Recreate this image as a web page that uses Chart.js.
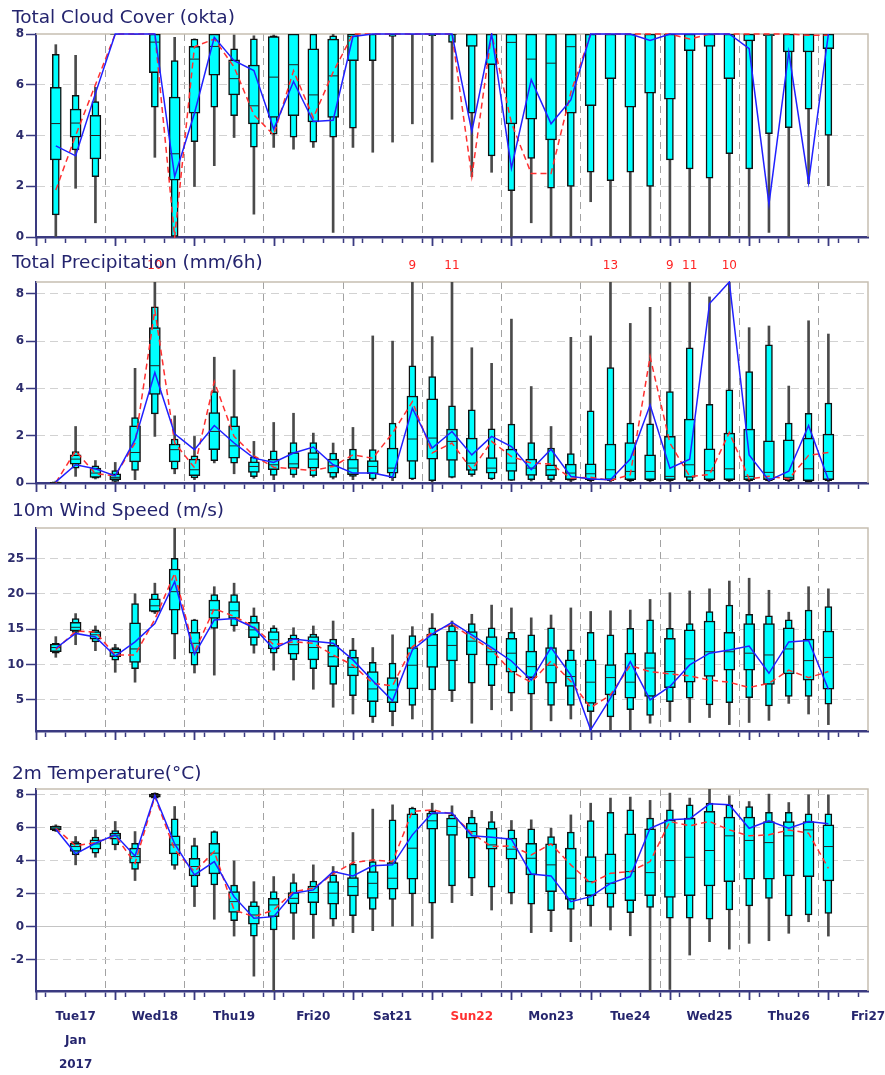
<!DOCTYPE html>
<html lang="en">
<head>
<meta charset="UTF-8">
<title>EPS Meteogram</title>
<script src="https://cdn.jsdelivr.net/npm/chart.js"></script>
<style>
  body { margin: 0; background: #fff; }
  #wrap { position: relative; width: 885px; height: 1075px; overflow: hidden; background: #fff; }
  canvas { position: absolute; left: 0; }
  .title { position: absolute; left: 12px; font: 18.5px "DejaVu Sans", sans-serif; color: #24246e; line-height: 20px; white-space: nowrap; }
</style>
</head>
<body>
<div id="wrap">
  <canvas id="cloud" width="885" height="250" style="top:0px"></canvas>
  <canvas id="precip" width="885" height="250" style="top:250px"></canvas>
  <canvas id="wind" width="885" height="250" style="top:500px"></canvas>
  <canvas id="temp" width="885" height="325" style="top:750px"></canvas>
  <div class="title" style="top:7px">Total Cloud Cover (okta)</div>
  <div class="title" style="top:252px">Total Precipitation (mm/6h)</div>
  <div class="title" style="top:500px">10m Wind Speed (m/s)</div>
  <div class="title" style="top:763px">2m Temperature(°C)</div>
</div>
<script>
// forecast steps (hours after Tue17 00 UTC)
const leadHours = [6,12,18,24,30,36,42,48,54,60,66,72,78,84,90,96,102,108,114,120,
                   126,132,138,144,150,156,162,168,174,180,186,192,198,204,210,216,222,228,234,240];
const dayLabels = ['Tue17','Wed18','Thu19','Fri20','Sat21','Sun22','Mon23','Tue24','Wed25','Thu26','Fri27'];
const monthLabel = 'Jan';
const yearLabel = '2017';

// Total cloud cover (okta)
const cloudMin = [0,1.92,0.56,8,8,3.14,0,1.99,2.81,3.92,0.9,3.53,3.46,3.53,0.18,3.53,3.34,3.74,4.46,2.95,4.64,2.38,2.55,0,0.56,0,0,1.39,0,0,0,0,0,0,0,0,0.18,0,2.1,2.02];
const cloudP10 = [0.87,3.43,2.38,8,8,5.12,0,3.76,5.12,4.78,3.54,4.05,3.93,3.74,3.93,4.29,6.95,7.9,8,7.93,7.67,4.88,3.2,1.83,3.1,1.92,1.99,2.55,2.22,2.55,1.99,3.04,2.68,2.32,3.28,2.68,4.07,4.31,5.04,4.0];
const cloudP25 = [3.04,3.93,3.08,8,8,6.48,2.24,4.88,6.38,5.6,4.46,4.71,4.78,4.54,4.71,6.95,8,8,8,8,8,7.51,6.79,4.46,4.64,3.83,4.88,5.18,6.24,5.12,5.67,5.43,7.34,7.51,6.24,7.73,7.93,7.29,7.29,7.42];
const cloudMed = [4.47,4.49,4.0,8,8,7.68,3.28,7.01,7.51,6.24,5.17,6.3,6.79,5.6,6.35,7.9,8,8,8,8,8,8,8,7.67,7.01,6.85,7.5,8,8,8,8,8,8,8,8,8,8,8,8,8];
const cloudP75 = [5.9,5.04,4.79,8,8,8,5.51,7.51,8,6.98,6.78,7.9,8,7.42,7.8,8,8,8,8,8,8,8,8,8,8,8,8,8,8,8,8,8,8,8,8,8,8,8,8,8];
const cloudP90 = [7.2,5.58,5.34,8,8,8,6.95,7.8,8,7.42,7.81,7.93,8,8,7.93,8,8,8,8,8,8,8,8,8,8,8,8,8,8,8,8,8,8,8,8,8,8,8,8,8];
const cloudMax = [7.58,7.16,5.9,8,8,8,7.87,7.81,8,7.96,7.93,7.96,8,8,8,8,8,8,8,8,8,8,8,8,8,8,8,8,8,8,8,8,8,8,8,8,8,8,8,8];
const cloudCtrl = [3.59,3.2,5.66,8,8,8,2.38,4.88,7.87,6.95,6.56,4.25,6.13,4.55,4.6,7.9,8,8,8,8,8,4.16,8,2.71,6.2,4.46,5.4,8,8,8,7.75,8,8,8,8,7.42,1.3,7.29,2.14,8];
const cloudHres = [1.85,4.0,6.0,8,8,8,0,7.5,7.8,6.7,4.81,4.02,6.55,4.7,6.5,8,8,8,8,8,8,2.38,8,4.5,2.5,2.5,5.7,8,8,8,8,8,7.8,8,8,8,8,8,7.95,7.95];

// Total precipitation (mm/6h)
const precMin = [0,0.28,0.17,0.03,0.14,1.97,0.39,0.14,0.85,0.39,0.2,0.14,0.24,0.25,0.17,0.14,0.11,0.1,0.14,0.03,0.21,0.28,0.14,0.1,0.08,0.05,0.05,0.05,0.05,0.05,0.05,0.05,0.05,0.05,0.05,0.05,0.05,0.05,0.02,0.05];
const precP10 = [0,0.63,0.2,0.07,0.53,2.92,0.59,0.21,0.94,0.84,0.27,0.32,0.34,0.31,0.24,0.28,0.17,0.21,0.17,0.1,0.24,0.35,0.17,0.11,0.14,0.14,0.11,0.1,0.1,0.1,0.1,0.1,0.1,0.1,0.1,0.1,0.1,0.1,0.05,0.1];
const precP25 = [0.01,0.8,0.24,0.14,0.89,3.75,0.89,0.31,1.41,1.05,0.45,0.56,0.62,0.63,0.42,0.35,0.39,0.42,0.91,1.01,0.95,0.53,0.42,0.49,0.32,0.31,0.14,0.14,0.14,0.14,0.14,0.14,0.24,0.14,0.14,0.14,0.14,0.14,0.1,0.14];
const precMed = [0.02,1.01,0.42,0.24,1.29,4.96,1.41,0.56,2.18,1.57,0.7,0.77,0.81,1.01,0.73,0.63,0.7,0.63,1.86,1.9,1.76,0.84,0.63,0.84,0.63,0.56,0.42,0.39,0.56,0.49,0.49,0.28,0.77,0.52,0.6,0.28,0.45,0.24,0.6,0.49];
const precP75 = [0.03,1.19,0.63,0.39,2.42,6.57,1.65,1.01,2.98,2.42,0.89,1.01,1.29,1.29,1.01,1.01,0.95,1.48,3.68,3.56,2.28,1.9,1.08,1.43,1.01,0.77,0.8,0.81,1.65,1.71,1.19,1.97,2.7,1.45,2.11,2.28,1.78,1.83,1.9,2.07];
const precP90 = [0.05,1.33,0.73,0.52,2.77,7.45,1.86,1.15,3.87,2.81,1.1,1.36,1.71,1.71,1.27,1.43,1.41,2.53,4.95,4.5,3.26,3.09,2.29,2.49,1.71,1.48,1.24,3.05,4.88,2.53,2.5,3.87,5.72,3.33,3.94,4.71,5.84,2.53,2.95,3.38];
const precMax = [0.08,2.39,0.95,0.87,4.85,10,2.84,1.97,5.32,4.78,1.76,2.56,2.95,2.11,1.69,2.35,6.22,6.0,9,6.19,11,5.72,5.06,6.93,4.08,2.39,6.16,6.22,13,6.75,7.43,9,11,7.87,10,6.57,6.64,4.1,6.86,6.3];
const precCtrl = [0.05,0.77,0.6,0.3,1.83,4.67,2.08,1.41,2.43,1.69,1.05,0.87,1.27,1.52,0.77,0.42,0.42,0.25,3.16,1.48,2.18,1.19,1.97,1.54,0.56,1.43,0.28,0.17,0.14,1.01,3.3,0.63,1.01,7.59,8.5,1.19,0.11,0.5,2.43,0.14];
const precHres = [0.02,1.36,0.39,0.31,1.69,7.31,1.7,0.65,4.29,1.97,1.15,0.67,0.6,0.53,0.7,1.19,1.05,2.11,3.44,1.27,1.69,0.56,1.76,1.12,0.84,0.8,0.2,0.24,0.11,0.35,5.34,1.69,0.28,0.35,2.14,0.17,0.28,0.17,1.17,1.29];

// 10m wind speed (m/s)
const windMin = [11.02,12.8,11.96,8.9,7.5,17.2,10.8,8.8,8.5,14.7,11.6,9.2,7.8,6.5,3.96,3.0,1.8,1.33,2.3,0.5,4.76,1.7,3.6,3.45,0.6,2.03,2.3,0.76,0.76,0.76,1.7,1.94,1.8,2.5,1.5,1.8,2.1,4.5,3.0,1.5];
const windP10 = [11.6,14.55,13.2,10.6,9.4,17.4,14.3,9.9,15.1,15.45,12.7,11.6,10.7,9.4,7.2,5.6,2.6,3.35,4.2,6.4,6.3,7.35,7.0,5.94,5.8,4.2,4.2,3.35,2.6,3.6,2.8,4.76,5.24,4.3,4.6,5.3,4.15,5.5,5.5,4.4];
const windP25 = [11.8,14.74,13.6,11.1,10.3,17.5,17.7,11.6,16.5,16.5,13.8,12.2,11.45,10.65,9.7,8.4,4.76,4.6,6.55,9.6,10.5,11.35,9.9,8.9,8.15,7.35,6.9,4.5,5.7,5.24,5.5,6.74,7.5,8.3,9.2,9.2,7.2,8.67,7.8,6.5];
const windMed = [12.4,15.26,14.2,11.7,12.2,18.3,20.3,13.0,17.7,17.6,14.9,13.5,12.8,12.4,11.1,9.6,6.55,6.4,9.9,12.7,12.7,13.3,11.8,11.6,9.7,9.9,8.3,7.5,8.15,7.5,9.5,9.0,10.8,11.8,11.8,11.6,11.35,12.2,10.55,11.0];
const windP75 = [12.9,15.96,14.65,12.2,15.9,19.3,23.5,14.55,19.1,18.9,15.96,14.65,13.7,13.94,12.7,11.0,9.0,8.15,12.4,14.3,14.74,14.65,13.94,13.7,11.9,12.4,10.65,10.65,10.0,11.6,11.7,13.7,14.9,16.15,14.55,15.8,15.8,15.2,13.6,14.74];
const windP90 = [13.0,16.5,14.9,12.4,18.6,20.0,25.0,16.3,19.9,19.9,16.9,15.2,14.2,14.3,13.6,12.06,10.3,10.2,14.1,15.2,15.5,15.8,15.2,14.55,14.2,15.2,12.06,14.55,14.2,15.1,16.3,15.1,15.8,17.5,18.4,17.1,16.9,16.3,17.7,18.2];
const windMax = [13.94,17.2,15.45,12.86,20.0,21.5,29.5,16.4,21.0,21.5,18.0,15.5,15.2,15.45,16.15,13.7,12.4,14.2,15.35,17.2,16.15,17.1,18.4,18.0,16.6,17.0,18.0,17.5,17.6,17.7,19.2,20.15,20.4,20.7,21.8,22.2,20.5,17.4,21.0,20.7];
const windCtrl = [12.3,14.4,13.9,11.2,13.2,15.8,21.7,11.45,16.3,16.5,15.2,12.2,13.6,13.3,13.0,10.65,7.7,4.86,12.06,14.3,15.96,14.2,12.4,10.5,7.8,12.4,8.5,0.76,5.24,10.4,5.0,6.9,9.94,11.6,12.06,12.6,8.76,13.2,13.4,6.5];
const windHres = [12.1,14.7,14.6,11.35,11.35,16.4,22.9,11.8,17.9,16.8,15.35,12.8,13.2,13.0,11.35,9.9,7.35,7.0,12.5,14.55,15.7,13.8,12.06,9.0,7.5,10.5,7.6,3.9,5.7,9.85,9.0,8.67,8.4,7.8,7.5,6.74,7.35,9.2,8.15,9.0];

// 2m temperature (°C)
const tempMin = [5.77,3.75,4.21,4.66,2.8,7.76,3.48,1.22,0.45,-0.57,-3.0,-3.95,-0.77,-0.71,0.04,-0.36,-0.24,0,0.04,-0.71,1.46,1.88,1.01,1.38,-0.36,-0.3,-0.91,0,-0.2,-0.55,-3.95,-3.81,-1.72,-0.91,-1.36,-1.01,-0.85,-0.4,0.3,-0.57];
const tempP10 = [5.81,4.35,4.46,4.96,3.48,7.8,3.71,2.43,2.53,0.36,-0.57,-0.2,0.81,0.71,0.45,0.67,1.05,1.66,1.98,1.42,2.47,2.94,2.39,2.03,1.36,0.97,1.05,1.26,1.17,0.85,1.17,0.51,0.51,0.45,1.01,1.26,1.72,0.65,0.71,0.81];
const tempP25 = [5.87,4.56,4.7,5.31,3.85,7.86,4.42,3.08,3.2,0.87,0.16,0.61,1.38,1.46,1.36,1.86,1.72,2.27,2.88,5.91,5.53,5.37,4.7,4.09,3.14,2.13,1.66,1.88,1.98,1.58,1.88,1.78,1.88,2.47,2.73,2.88,2.88,3.08,3.04,2.77];
const tempMed = [5.97,4.86,5.02,5.51,4.25,7.96,4.96,3.65,4.46,1.52,0.71,1.32,1.72,2.07,2.03,2.43,2.63,2.94,4.76,6.42,6.08,5.77,4.96,4.7,4.15,3.75,2.94,2.73,2.63,3.34,3.28,4.01,4.21,4.62,5.51,5.23,5.1,5.51,5.87,4.86];
const tempP75 = [6.08,5.06,5.27,5.67,4.76,8.04,5.51,4.15,5.06,2.13,1.26,1.72,2.07,2.47,2.73,2.98,3.34,3.89,6.85,6.89,6.58,6.28,5.97,5.37,5.06,5.02,4.76,4.25,4.42,5.63,5.93,6.48,6.58,6.99,6.64,6.64,6.38,6.38,6.38,6.18];
const tempP90 = [6.12,5.16,5.43,5.83,5.06,8.08,6.54,4.92,5.77,2.53,1.52,2.13,2.67,2.77,3.14,3.79,3.95,6.48,7.19,7.03,6.78,6.64,6.38,5.87,5.93,5.47,5.73,6.44,6.93,7.09,6.58,7.09,7.39,7.49,7.39,7.29,6.93,6.93,6.85,6.85];
const tempMax = [6.18,5.47,5.87,6.38,5.77,8.12,7.29,5.37,5.81,3.99,2.73,3.04,3.2,3.75,3.65,5.71,7.13,7.39,7.25,7.49,7.33,7.05,6.99,6.44,6.48,5.97,6.78,7.49,7.8,7.86,7.66,8.1,7.8,8.4,7.94,7.59,8.04,7.53,8.0,8.0];
const tempCtrl = [5.91,4.42,5.06,5.57,4.29,7.96,5.02,3.14,3.95,1.82,0.51,0.61,2.03,2.23,3.34,3.08,3.69,3.75,5.57,6.89,6.89,5.51,5.43,5.31,3.2,3.08,1.52,1.82,2.63,3.04,5.97,6.48,6.54,7.45,7.39,5.97,6.42,5.97,6.38,6.24];
const tempHres = [5.97,4.9,5.1,5.51,3.85,7.9,4.66,3.34,4.56,1.01,0.61,1.01,2.13,2.33,3.2,3.89,4.05,3.95,6.99,7.09,6.83,5.67,4.86,4.9,4.35,5.02,3.75,2.63,3.24,3.34,3.95,6.38,6.12,6.38,5.87,5.51,5.57,5.87,5.67,3.54];

const NAVY = '#3a3a80';
const TICK_FONT = { family: 'DejaVu Sans', size: 12, weight: 'bold' };

// top and right frame lines of each plot, plus longer ticks at day boundaries
const framePlugin = {
  id: 'frame',
  beforeDatasetsDraw(chart) {
    const a = chart.chartArea, ctx = chart.ctx, xs = chart.scales.x;
    ctx.save();
    ctx.strokeStyle = '#c6bfb1';
    ctx.lineWidth = 1.5;
    ctx.beginPath();
    ctx.moveTo(a.left, a.top);
    ctx.lineTo(a.right, a.top);
    ctx.lineTo(a.right, a.bottom);
    ctx.stroke();
    ctx.strokeStyle = NAVY;
    ctx.lineWidth = 1.8;
    ctx.beginPath();
    xs.ticks.forEach(t => {
      if (t.value % 24 !== 0) return;
      const px = Math.round(xs.getPixelForValue(t.value)) + 0.5;
      ctx.moveTo(px, a.bottom);
      ctx.lineTo(px, a.bottom + 9);
    });
    ctx.stroke();
    ctx.restore();
  }
};

// numbers above the plot for maxima that run off the top
const overflowPlugin = {
  id: 'overflow',
  afterDatasetsDraw(chart, args, opts) {
    if (!opts.values) return;
    const xs = chart.scales.x, ys = chart.scales.y, ctx = chart.ctx;
    ctx.save();
    ctx.fillStyle = '#ff2424';
    ctx.font = '12px "DejaVu Sans"';
    ctx.textAlign = 'center';
    ctx.textBaseline = 'middle';
    opts.values.forEach((v, i) => {
      if (v > ys.max) ctx.fillText(String(Math.round(v)), xs.getPixelForValue(leadHours[i]), chart.chartArea.top - 16);
    });
    ctx.restore();
  }
};

function dayLabel(v) {
  if (v % 24 !== 12) return '';
  const i = (v - 12) / 24;
  if (i === 0) return [dayLabels[0], monthLabel, yearLabel];
  return dayLabels[i] || '';
}

function dayColor(c) {
  if (!c.tick) return NAVY;
  const v = c.tick.value;
  const lab = v % 24 === 12 ? dayLabels[(v - 12) / 24] : '';
  return lab && lab.startsWith('Sun') ? '#ff3030' : '#26266e';
}

function buildPanel(id, s) {
  const box = (lo, hi) => leadHours.map((h, i) => ({ x: h, y: [lo[i], hi[i]] }));
  const pts = arr => leadHours.map((h, i) => ({ x: h, y: arr[i] }));
  const boxStyle = { type: 'bar', grouped: false, backgroundColor: '#00ffff', borderColor: '#111', borderWidth: 1.5, borderSkipped: false, clip: 0 };

  new Chart(document.getElementById(id), {
    type: 'bar',
    data: {
      datasets: [
        { type: 'line', data: pts(s.ctrl), borderColor: '#2020ff', borderWidth: 1.5, pointRadius: 0, tension: 0, order: 0, clip: 1 },
        { type: 'line', data: pts(s.hres), borderColor: '#ff3030', borderWidth: 1.5, borderDash: [6, 4], pointRadius: 0, tension: 0, order: 1, clip: 1 },
        { type: 'line', data: pts(s.med), showLine: false, pointStyle: 'line', pointRadius: 5, pointBorderColor: '#222', pointBorderWidth: 1, order: 2, clip: 0 },
        Object.assign({ data: box(s.p25, s.p75), barThickness: 11, order: 3 }, boxStyle),
        Object.assign({ data: box(s.p10, s.p90), barThickness: 7, order: 4 }, boxStyle),
        { type: 'bar', grouped: false, data: box(s.min, s.max), barThickness: 2, backgroundColor: '#4a4a4a', borderWidth: 0, order: 5, clip: 0 }
      ]
    },
    options: {
      responsive: false,
      animation: false,
      events: [],
      layout: { padding: { top: s.padTop, bottom: s.padBottom, left: 0, right: 17 } },
      plugins: { legend: { display: false }, tooltip: { enabled: false }, overflow: { values: s.overflow } },
      scales: {
        x: {
          type: 'linear', min: 0, max: 252, offset: false,
          afterFit: sc => { sc.height = s.xHeight; sc.paddingLeft = 0; sc.paddingRight = 0; },
          ticks: {
            stepSize: 6, autoSkip: false, maxRotation: 0, padding: 8,
            callback: v => s.xLabels ? dayLabel(v) : '',
            color: dayColor,
            font: Object.assign({ lineHeight: 2 }, TICK_FONT)
          },
          grid: {
            color: c => (c.tick && c.tick.value % 24 === 0 && c.tick.value > 0 && c.tick.value < 252) ? '#a2a2a2' : 'rgba(0,0,0,0)',
            tickColor: NAVY, tickLength: 6, tickWidth: 1.5, tickBorderDash: [], lineWidth: 1
          },
          border: { color: NAVY, width: 2.5, dash: [7, 5] }
        },
        y: {
          min: s.yMin, max: s.yMax,
          afterFit: sc => { sc.width = 36; sc.paddingTop = 0; sc.paddingBottom = 0; },
          ticks: { stepSize: s.yStep, includeBounds: false, padding: 2, color: '#2c2c6c', font: TICK_FONT },
          grid: {
            color: c => {
              if (!c.tick) return 'rgba(0,0,0,0)';
              const v = c.tick.value;
              if (v <= c.scale.min || v >= c.scale.max) return 'rgba(0,0,0,0)';
              return v === 0 ? '#c4c4c4' : '#d2d2d2';
            },
            tickColor: NAVY, tickLength: 10, tickWidth: 1.5, tickBorderDash: [], lineWidth: 1
          },
          border: { color: NAVY, width: 2, dash: c => (c.tick && c.tick.value === 0) ? [] : [8, 5] }
        }
      }
    },
    plugins: [framePlugin, overflowPlugin]
  });
}

buildPanel('cloud', {
  min: cloudMin, p10: cloudP10, p25: cloudP25, med: cloudMed, p75: cloudP75, p90: cloudP90, max: cloudMax,
  ctrl: cloudCtrl, hres: cloudHres, yMin: 0, yMax: 8, yStep: 2,
  padTop: 34, padBottom: 5, xHeight: 8, xLabels: false
});
buildPanel('precip', {
  min: precMin, p10: precP10, p25: precP25, med: precMed, p75: precP75, p90: precP90, max: precMax,
  ctrl: precCtrl, hres: precHres, yMin: 0, yMax: 8.5, yStep: 2, overflow: precMax,
  padTop: 32, padBottom: 9, xHeight: 8, xLabels: false
});
buildPanel('wind', {
  min: windMin, p10: windP10, p25: windP25, med: windMed, p75: windP75, p90: windP90, max: windMax,
  ctrl: windCtrl, hres: windHres, yMin: 0.6, yMax: 29.3, yStep: 5,
  padTop: 28, padBottom: 11, xHeight: 8, xLabels: false
});
buildPanel('temp', {
  min: tempMin, p10: tempP10, p25: tempP25, med: tempMed, p75: tempP75, p90: tempP90, max: tempMax,
  ctrl: tempCtrl, hres: tempHres, yMin: -3.9, yMax: 8.35, yStep: 2,
  padTop: 39, padBottom: 4, xHeight: 80, xLabels: true
});
</script>
</body>
</html>
